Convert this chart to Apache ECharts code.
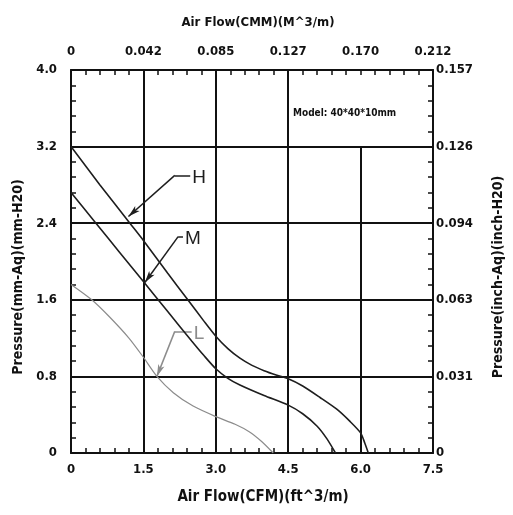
<!DOCTYPE html>
<html>
<head>
<meta charset="utf-8">
<script src="https://cdn.jsdelivr.net/npm/echarts@6/dist/echarts.min.js"></script>
<style>html,body{margin:0;padding:0;background:#fff}#c{width:513px;height:515px}</style>
</head>
<body>
<div id="c"></div>
<script>
// ---- data (CFM, mm-Aq) ----
const cfmH = [0, 0.6, 1.22, 1.5, 2.0, 2.42, 2.75, 3.0, 3.25, 3.5, 3.75, 4.0, 4.25, 4.5, 4.8, 5.16, 5.5, 5.78, 6.0, 6.09, 6.16];
const presH = [3.2, 2.8, 2.4, 2.22, 1.88, 1.6, 1.38, 1.22, 1.09, 0.99, 0.915, 0.86, 0.815, 0.775, 0.7, 0.58, 0.46, 0.33, 0.21, 0.1, 0];
const cfmM = [0, 0.5, 1.0, 1.5, 2.0, 2.5, 2.75, 3.0, 3.25, 3.5, 4.0, 4.5, 4.8, 5.1, 5.3, 5.48];
const presM = [2.72, 2.41, 2.1, 1.79, 1.48, 1.17, 1.02, 0.88, 0.78, 0.71, 0.6, 0.5, 0.41, 0.28, 0.15, 0];
const cfmL = [0, 0.43, 0.8, 1.2, 1.5, 1.78, 2.12, 2.53, 3.0, 3.4, 3.7, 3.95, 4.19];
const presL = [1.76, 1.6, 1.42, 1.2, 1.0, 0.8, 0.63, 0.49, 0.38, 0.3, 0.22, 0.12, 0];

// tick labels
const cfmTicks = ['0', '1.5', '3.0', '4.5', '6.0', '7.5'];
const cmmTicks = ['0', '0.042', '0.085', '0.127', '0.170', '0.212'];
const mmTicks = ['0', '0.8', '1.6', '2.4', '3.2', '4.0'];
const inchTicks = ['0', '0.031', '0.063', '0.094', '0.126', '0.157'];

// vertical grid lines (x, top y)
const gridX = [1.5, 3.0, 4.5, 6.0];
const gridXTop = [4.0, 4.0, 4.0, 3.2];

// curve labels and their leader lines (data coordinates)
const labelNames = ['H', 'M', 'L'];
const leaderTip = [[1.19, 2.47], [1.53, 1.78], [1.78, 0.8]];
const leaderBend = [[2.15, 2.9], [2.22, 2.26], [2.15, 1.27]];
const leaderEnd = [[2.47, 2.9], [2.32, 2.26], [2.5, 1.27]];

const dark = '#1e1e1e';
const grey = '#8c8c8c';
const tickFont = {fontFamily: '"Liberation Sans Narrow","DejaVu Sans Condensed","Liberation Sans",sans-serif', fontWeight: 'bold', fontSize: 13, color: '#111'};

function pairs(xs, ys) { return xs.map((x, i) => [x, ys[i]]); }

const chart = echarts.init(document.getElementById('c'), null, {renderer: 'canvas'});

function axisCommon() {
  return {
    type: 'value', min: 0,
    axisLine: {show: true, onZero: false, lineStyle: {color: '#111', width: 2}},
    axisTick: {show: true, inside: true, length: 5, lineStyle: {color: '#111', width: 1.5}},
    minorTick: {show: true, splitNumber: 5, length: 5, lineStyle: {color: '#111', width: 1.5}},
    splitLine: {show: false}
  };
}

const gridLines = gridX.map((x, i) => [{coord: [x, 0]}, {coord: [x, gridXTop[i]]}]);

const leaderLines = [];
labelNames.forEach((n, i) => {
  const col = n === 'L' ? grey : dark;
  leaderLines.push([{coord: leaderTip[i], symbol: 'arrow', symbolSize: [5, 12], lineStyle: {color: col}, itemStyle: {color: col}},
                    {coord: leaderBend[i], symbol: 'none'}]);
  leaderLines.push([{coord: leaderBend[i], symbol: 'none', lineStyle: {color: col}},
                    {coord: leaderEnd[i], symbol: 'none'}]);
});

const option = {
  backgroundColor: '#fff',
  animation: false,
  grid: {left: 71, top: 70, right: 80, bottom: 62, containLabel: false},
  xAxis: [
    Object.assign(axisCommon(), {
      position: 'bottom', max: 7.5, interval: 1.5,
      axisLabel: Object.assign({margin: 10, formatter: v => cfmTicks[Math.round(v / 1.5)]}, tickFont)
    }),
    Object.assign(axisCommon(), {
      position: 'top', max: 7.5, interval: 1.5,
      axisLabel: Object.assign({margin: 12, formatter: v => cmmTicks[Math.round(v / 1.5)]}, tickFont)
    })
  ],
  yAxis: [
    Object.assign(axisCommon(), {
      position: 'left', max: 4, interval: 0.8,
      splitLine: {show: true, lineStyle: {color: '#111', width: 2}},
      axisLabel: Object.assign({margin: 14, formatter: v => mmTicks[Math.round(v / 0.8)]}, tickFont)
    }),
    Object.assign(axisCommon(), {
      position: 'right', max: 4, interval: 0.8,
      axisLabel: Object.assign({margin: 3, formatter: v => inchTicks[Math.round(v / 0.8)]}, tickFont)
    })
  ],
  series: [
    {
      type: 'line', name: 'H', data: pairs(cfmH, presH), smooth: 0.25, symbol: 'none',
      lineStyle: {color: dark, width: 1.6}, z: 5,
      markLine: {silent: true, symbol: 'none', label: {show: false},
        lineStyle: {color: '#111', width: 2, type: 'solid'}, data: gridLines}
    },
    {
      type: 'line', name: 'M', data: pairs(cfmM, presM), smooth: 0.25, symbol: 'none',
      lineStyle: {color: dark, width: 1.6}, z: 5,
      markLine: {silent: true, label: {show: false},
        lineStyle: {color: dark, width: 1.5, type: 'solid'}, data: leaderLines}
    },
    {
      type: 'line', name: 'L', data: pairs(cfmL, presL), smooth: 0.25, symbol: 'none',
      lineStyle: {color: grey, width: 1.2}, z: 5
    }
  ],
  graphic: [
    {type: 'text', x: 258, y: 23, style: {text: 'Air Flow(CMM)(M^3/m)', textAlign: 'center', textVerticalAlign: 'middle',
      font: 'bold 13px "Liberation Sans Narrow","DejaVu Sans Condensed",sans-serif', fill: '#111'}},
    {type: 'text', x: 263, y: 497, style: {text: 'Air Flow(CFM)(ft^3/m)', textAlign: 'center', textVerticalAlign: 'middle',
      font: 'bold 15px "Liberation Sans Narrow","DejaVu Sans Condensed",sans-serif', fill: '#111'}},
    {type: 'text', x: 18, y: 277, rotation: Math.PI / 2, style: {text: 'Pressure(mm-Aq)(mm-H20)', textAlign: 'center', textVerticalAlign: 'middle',
      font: 'bold 14px "Liberation Sans Narrow","DejaVu Sans Condensed",sans-serif', fill: '#111'}},
    {type: 'text', x: 498, y: 277, rotation: Math.PI / 2, style: {text: 'Pressure(inch-Aq)(inch-H20)', textAlign: 'center', textVerticalAlign: 'middle',
      font: 'bold 14px "Liberation Sans Narrow","DejaVu Sans Condensed",sans-serif', fill: '#111'}},
    {type: 'text', x: 293, y: 113, style: {text: 'Model: 40*40*10mm', textAlign: 'left', textVerticalAlign: 'middle',
      font: 'bold 10px "Liberation Sans Narrow","DejaVu Sans Condensed",sans-serif', fill: '#111'}}
  ]
};
chart.setOption(option);

// curve name letters placed at the leader ends, via the chart's own coordinate conversion
const letterGraphics = labelNames.map((n, i) => {
  const p = chart.convertToPixel({xAxisIndex: 0, yAxisIndex: 0}, leaderEnd[i]);
  return {type: 'text', x: p[0] + 2, y: p[1] + 2, style: {text: n, textAlign: 'left', textVerticalAlign: 'middle',
    font: '19px "Liberation Sans",sans-serif', fill: n === 'L' ? grey : dark}};
});
chart.setOption({graphic: option.graphic.concat(letterGraphics)});
</script>
</body>
</html>
